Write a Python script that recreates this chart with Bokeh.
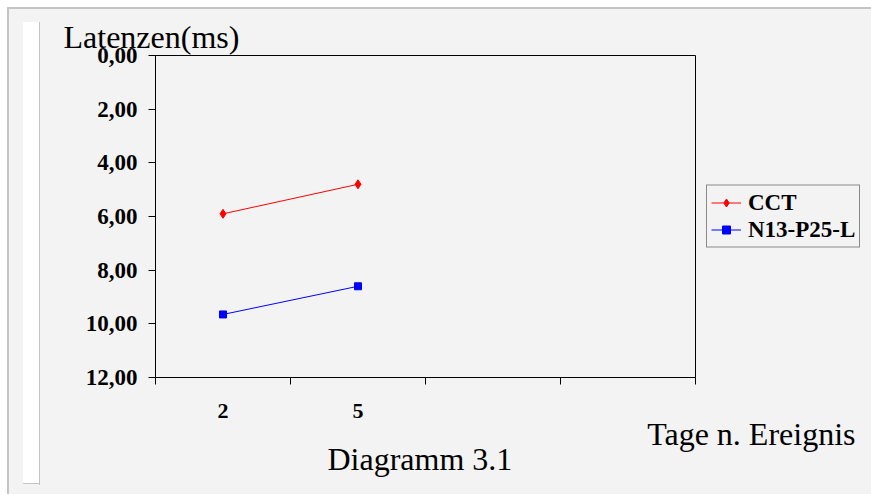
from bokeh.plotting import figure
from bokeh.models import Range1d, FixedTicker, Legend, LegendItem, Title
from bokeh.embed import file_html
from bokeh.resources import INLINE

# Days after the event (category labels) and mean latencies in ms
days = ["2", "5"]
n_slots = 4
cct = [5.9, 4.8]
n13_p25_l = [9.65, 8.6]

y_ticks = [0, 2, 4, 6, 8, 10, 12]
y_tick_labels = ["0,00", "2,00", "4,00", "6,00", "8,00", "10,00", "12,00"]

SERIF = "'Liberation Serif', 'Times New Roman', serif"
BG = "#f3f3f3"
EDGE = "#c4c4c4"

x_pos = [i + 0.5 for i in range(len(days))]


def bar(color, x, y, w, h):
    return (f"linear-gradient({color},{color})", f"{x}px {y}px", f"{w}px {h}px")


# page backdrop drawn behind the transparent canvas border:
# white strip at the left, grey top/left edge, light grey panel
layers = [
    bar(EDGE, 39, 22, 1, 463),
    bar(EDGE, 23, 483, 17, 1),
    bar("white", 23, 22, 16, 461),
    bar(EDGE, 7, 7, 900, 2),
    bar(EDGE, 7, 7, 2, 600),
    bar(BG, 7, 7, 900, 600),
]
page_styles = {
    "background-color": "white",
    "background-image": ", ".join(l[0] for l in layers),
    "background-position": ", ".join(l[1] for l in layers),
    "background-size": ", ".join(l[2] for l in layers),
    "background-repeat": "no-repeat",
}

p = figure(frame_width=540, frame_height=322, output_backend="svg",
           toolbar_location=None,
           x_range=Range1d(0, n_slots), y_range=Range1d(12, 0),
           min_border_left=155, min_border_top=55,
           min_border_right=176, min_border_bottom=117,
           styles=page_styles)
p.border_fill_alpha = 0
p.background_fill_color = BG
p.outline_line_color = "black"
p.outline_line_width = 1
p.grid.visible = False

r1 = p.line(x_pos, cct, color="red", line_width=1)
m1 = p.scatter(x_pos, cct, marker="diamond", size=9, color="red")
r2 = p.line(x_pos, n13_p25_l, color="blue", line_width=1)
m2 = p.scatter(x_pos, n13_p25_l, marker="square", size=7, color="blue")

# y axis
ya = p.yaxis[0]
ya.ticker = FixedTicker(ticks=y_ticks, minor_ticks=[])
ya.major_label_overrides = {t: s for t, s in zip(y_ticks, y_tick_labels)}
ya.major_label_text_font = SERIF
ya.major_label_text_font_style = "bold"
ya.major_label_text_font_size = "23px"
ya.major_label_text_color = "black"
ya.major_tick_in = 0
ya.major_tick_out = 7
ya.axis_line_color = "black"
ya.major_tick_line_color = "black"
ya.major_label_standoff = 11

# x axis: tick marks on slot boundaries, labels in slot centres
xa = p.xaxis[0]
xa.ticker = FixedTicker(ticks=x_pos, minor_ticks=list(range(n_slots + 1)))
xa.major_label_overrides = {x: d for x, d in zip(x_pos, days)}
xa.major_tick_in = 0
xa.major_tick_out = 0
xa.minor_tick_in = 0
xa.minor_tick_out = 7
xa.minor_tick_line_color = "black"
xa.axis_line_color = "black"
xa.major_label_text_font = SERIF
xa.major_label_text_font_style = "bold"
xa.major_label_text_font_size = "22px"
xa.major_label_text_color = "black"
xa.major_label_standoff = 19

legend = Legend(items=[LegendItem(label="CCT", renderers=[r1, m1]),
                       LegendItem(label="N13-P25-L", renderers=[r2, m2])],
                location="center_left", orientation="vertical")
legend.label_text_font = SERIF
legend.label_text_font_style = "bold"
legend.label_text_font_size = "23px"
legend.label_text_color = "black"
legend.border_line_color = "#222222"
legend.border_line_width = 1
legend.background_fill_color = BG
legend.background_fill_alpha = 1.0
legend.glyph_width = 30
legend.glyph_height = 20
legend.spacing = 1
legend.padding = 4
legend.margin = 11
legend.label_standoff = 7
p.add_layout(legend, "right")

y_title = Title(text="Latenzen(ms)", align="left", offset=-92, standoff=2,
                text_font=SERIF, text_font_size="32px",
                text_font_style="normal", text_color="black")
p.add_layout(y_title, "above")

x_title = Title(text="Tage n. Ereignis", align="right", offset=-160,
                standoff=-9, vertical_align="top",
                text_font=SERIF, text_font_size="32px",
                text_font_style="normal", text_color="black")
p.add_layout(x_title, "below")

caption = Title(text="Diagramm 3.1", align="left", offset=172,
                standoff=-18, vertical_align="top",
                text_font=SERIF, text_font_size="32px",
                text_font_style="normal", text_color="black")
p.add_layout(caption, "below")

open("out.html", "w").write(file_html(p, INLINE))
